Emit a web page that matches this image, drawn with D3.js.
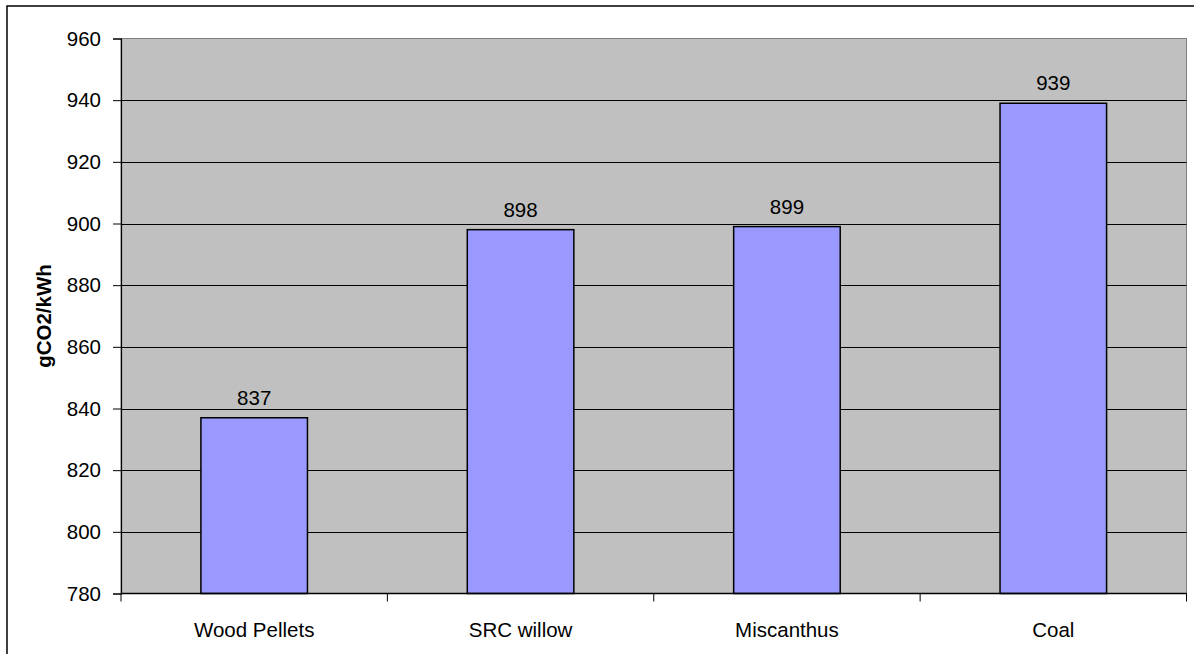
<!DOCTYPE html>
<html>
<head>
<meta charset="utf-8">
<script src="https://cdn.jsdelivr.net/npm/d3@7"></script>
<style>
  html, body { margin: 0; padding: 0; background: #fff; }
  svg { display: block; font-family: Arial, "Liberation Sans", sans-serif; }
</style>
</head>
<body>
<svg id="chart" width="1194" height="654"></svg>
<script>
// Emissions per kWh of electricity by fuel
const categories = ["Wood Pellets", "SRC willow", "Miscanthus", "Coal"];
const values = [837, 898, 899, 939];
const yTicks = [780, 800, 820, 840, 860, 880, 900, 920, 940, 960];
const yTitle = "gCO2/kWh";

const svg = d3.select("#chart");
const W = 1194, H = 654;
const plot = { left: 121, top: 38.5, right: 1186.5, bottom: 593.5 };

// outer chart frame (top and left edges are inside the view)
svg.append("path")
  .attr("d", `M7,${H + 5} V6 H${W + 5}`)
  .attr("fill", "none").attr("stroke", "#000").attr("stroke-width", 1.5);

const x = d3.scaleBand().domain(categories)
  .range([plot.left, plot.right]).paddingInner(0.6).paddingOuter(0.3);
const xCat = d3.scaleBand().domain(categories).range([plot.left, plot.right]);
const y = d3.scaleLinear().domain([780, 960]).range([plot.bottom, plot.top]);

// plot background
svg.append("rect")
  .attr("x", plot.left).attr("y", plot.top)
  .attr("width", plot.right - plot.left).attr("height", plot.bottom - plot.top)
  .attr("fill", "#c0c0c0").attr("stroke", "#808080").attr("stroke-width", 1);

// horizontal gridlines
svg.append("g").selectAll("line")
  .data(yTicks.filter(t => t > 780 && t < 960))
  .join("line")
  .attr("x1", plot.left).attr("x2", plot.right)
  .attr("y1", d => Math.round(y(d)) + 0.5).attr("y2", d => Math.round(y(d)) + 0.5)
  .attr("stroke", "#000").attr("stroke-width", 1);

// bars
svg.append("g").selectAll("rect")
  .data(values)
  .join("rect")
  .attr("x", (d, i) => x(categories[i]))
  .attr("width", x.bandwidth())
  .attr("y", d => y(d))
  .attr("height", d => y(780) - y(d))
  .attr("fill", "#9999ff").attr("stroke", "#000").attr("stroke-width", 1.5);

// value labels
svg.append("g").selectAll("text")
  .data(values)
  .join("text")
  .attr("x", (d, i) => x(categories[i]) + x.bandwidth() / 2)
  .attr("y", d => y(d) - 13)
  .attr("text-anchor", "middle")
  .attr("font-size", 20.5).attr("fill", "#000")
  .text(d => d);

// y axis
const yAxis = d3.axisLeft(y).tickValues(yTicks).tickSize(8).tickPadding(12)
  .tickFormat(d3.format("d"));
const gy = svg.append("g").attr("transform", `translate(${plot.left},0)`).call(yAxis);
gy.select(".domain").attr("stroke", "#000").attr("stroke-width", 1.2);
gy.selectAll(".tick line").attr("stroke", "#000");
gy.selectAll(".tick text").attr("font-size", 20.5).attr("fill", "#000")
  .attr("font-family", "Arial, 'Liberation Sans', sans-serif");

// x axis: category boundary ticks
const gx = svg.append("g").attr("transform", `translate(0,${plot.bottom})`);
gx.append("line").attr("x1", plot.left).attr("x2", plot.right)
  .attr("stroke", "#000").attr("stroke-width", 1.5);
const bounds = categories.map(c => xCat(c)).concat([plot.right]);
gx.selectAll("line.tk").data(bounds).join("line").attr("class", "tk")
  .attr("x1", d => d).attr("x2", d => d).attr("y1", 0).attr("y2", 8)
  .attr("stroke", "#000").attr("stroke-width", 1);
gx.selectAll("text").data(categories).join("text")
  .attr("x", d => xCat(d) + xCat.bandwidth() / 2)
  .attr("y", 43)
  .attr("text-anchor", "middle")
  .attr("font-size", 20.5).attr("fill", "#000")
  .text(d => d);

// y axis title
svg.append("text")
  .attr("transform", `translate(51,${(plot.top + plot.bottom) / 2}) rotate(-90)`)
  .attr("text-anchor", "middle")
  .attr("font-size", 20.5).attr("font-weight", "bold").attr("fill", "#000")
  .text(yTitle);
</script>
</body>
</html>
